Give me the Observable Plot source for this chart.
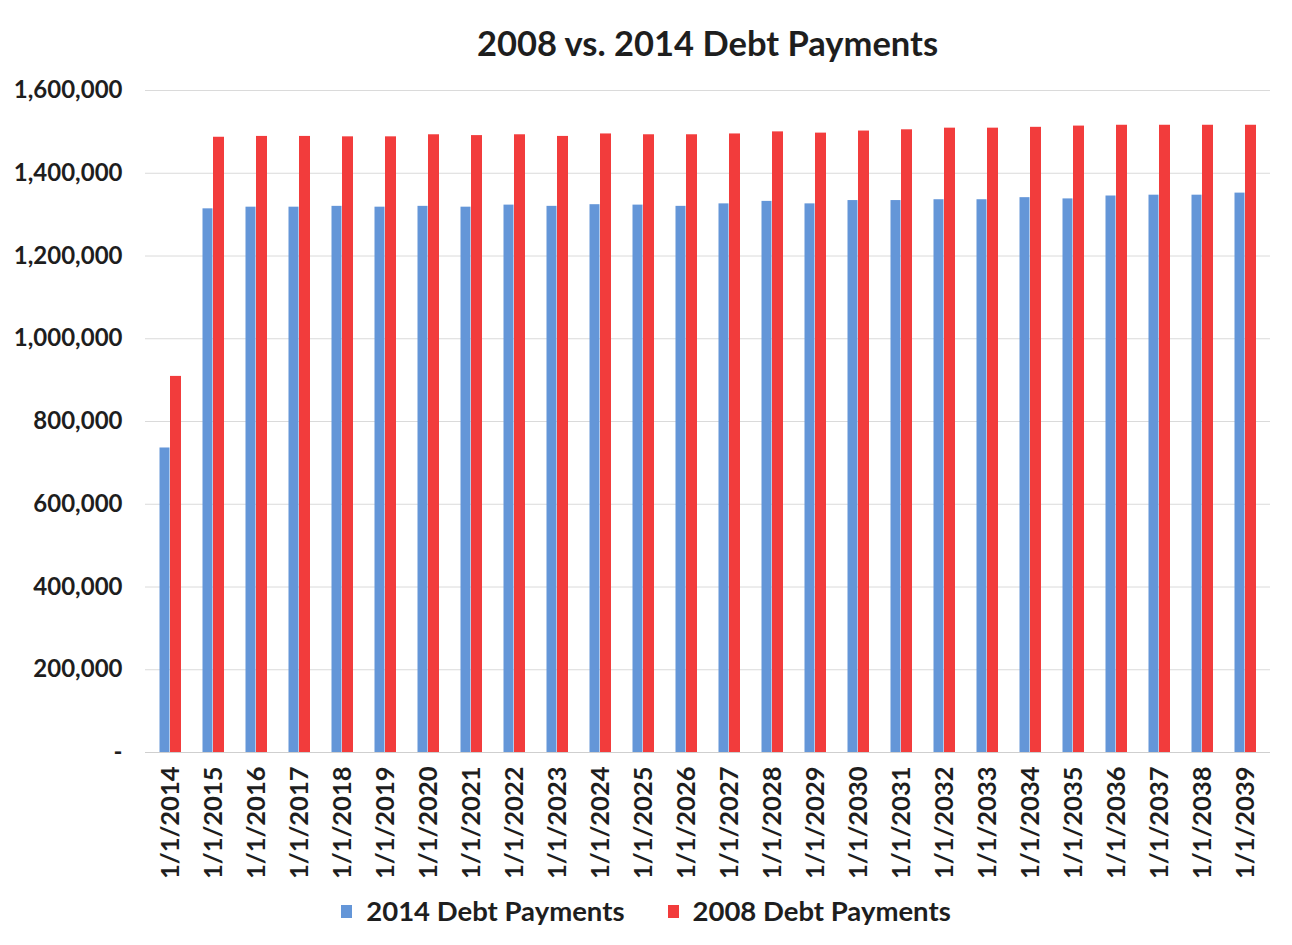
<!DOCTYPE html>
<html>
<head>
<meta charset="utf-8">
<script src="https://cdn.jsdelivr.net/npm/d3@7"></script>
<script src="https://cdn.jsdelivr.net/npm/@observablehq/plot@0.6"></script>
<style>
  html, body { margin: 0; padding: 0; background: #fff; }
  #wrap { position: relative; width: 1292px; height: 945px; font-family: Lato, "Open Sans", sans-serif; color: #1e1e1e; }
  #title { position: absolute; top: 21px; left: 145px; width: 1125px; text-align: center; font-size: 34.5px; font-weight: bold; line-height: 44px; }
  #chart { position: absolute; top: 70px; left: 0; }
  #legend { position: absolute; top: 892px; left: 0; width: 1292px; display: flex; justify-content: center; gap: 43px; font-size: 27.5px; font-weight: bold; line-height: 38px; padding-left: 0; }
  #legend .item { display: flex; align-items: center; }
  #legend .sw { width: 11px; height: 13px; margin-right: 14px; }
</style>
</head>
<body>
<div id="wrap">
  <div id="title">2008 vs. 2014 Debt Payments</div>
  <div id="chart"></div>
  <div id="legend"></div>
</div>
<script>
const years = ["1/1/2014","1/1/2015","1/1/2016","1/1/2017","1/1/2018","1/1/2019","1/1/2020","1/1/2021","1/1/2022","1/1/2023","1/1/2024","1/1/2025","1/1/2026","1/1/2027","1/1/2028","1/1/2029","1/1/2030","1/1/2031","1/1/2032","1/1/2033","1/1/2034","1/1/2035","1/1/2036","1/1/2037","1/1/2038","1/1/2039"];
const pay2014 = [736000,1314000,1318000,1318000,1320000,1318000,1320000,1318000,1323000,1320000,1324000,1323000,1320000,1326000,1332000,1326000,1334000,1334000,1336000,1336000,1341000,1338000,1345000,1347000,1347000,1352000];
const pay2008 = [909000,1487000,1489000,1489000,1488000,1488000,1493000,1491000,1493000,1489000,1495000,1493000,1493000,1495000,1500000,1497000,1502000,1505000,1509000,1509000,1511000,1514000,1516000,1516000,1516000,1516000];
const seriesNames = ["2014 Debt Payments", "2008 Debt Payments"];
const seriesColors = ["#6496d8", "#f23c3c"];
const yTicks = [0,200000,400000,600000,800000,1000000,1200000,1400000,1600000];

const d2014 = years.map((yr, i) => ({year: yr, series: seriesNames[0], value: pay2014[i]}));
const d2008 = years.map((yr, i) => ({year: yr, series: seriesNames[1], value: pay2008[i]}));
const fmt = d3.format(",");

const chart = Plot.plot({
  width: 1292,
  height: 812,
  marginTop: 20,
  marginBottom: 130,
  marginLeft: 145,
  marginRight: 22,
  style: {fontFamily: "Lato, 'Open Sans', sans-serif", fontWeight: "bold", fontSize: "24px", color: "#1e1e1e", background: "white", overflow: "visible"},
  x: {domain: years, paddingInner: 0.5, paddingOuter: 0.25, tickRotate: -90, tickSize: 0, tickPadding: 14, label: null},
  y: {domain: [0, 1600000], ticks: yTicks, tickSize: 0, tickPadding: 23, tickFormat: d => d === 0 ? "-" : fmt(d), label: null},
  color: {domain: seriesNames, range: seriesColors},
  marks: [
    Plot.ruleY(yTicks.slice(1), {stroke: "#dadada", strokeWidth: 1}),
    Plot.barY(d2014, {x: "year", y: "value", fill: "series", insetRight: 11.5, insetLeft: 0.5}),
    Plot.barY(d2008, {x: "year", y: "value", fill: "series", insetLeft: 11}),
    Plot.ruleY([0], {stroke: "#cfcfcf", strokeWidth: 1.2})
  ]
});
d3.select(chart).selectAll('g[aria-label^="x-axis"] text').style("font-size", "25.5px");
document.getElementById("chart").appendChild(chart);

const legend = document.getElementById("legend");
seriesNames.forEach((name, i) => {
  const item = document.createElement("div");
  item.className = "item";
  const sw = document.createElement("span");
  sw.className = "sw";
  sw.style.background = seriesColors[i];
  const t = document.createElement("span");
  t.textContent = name;
  item.appendChild(sw);
  item.appendChild(t);
  legend.appendChild(item);
});
</script>
</body>
</html>
